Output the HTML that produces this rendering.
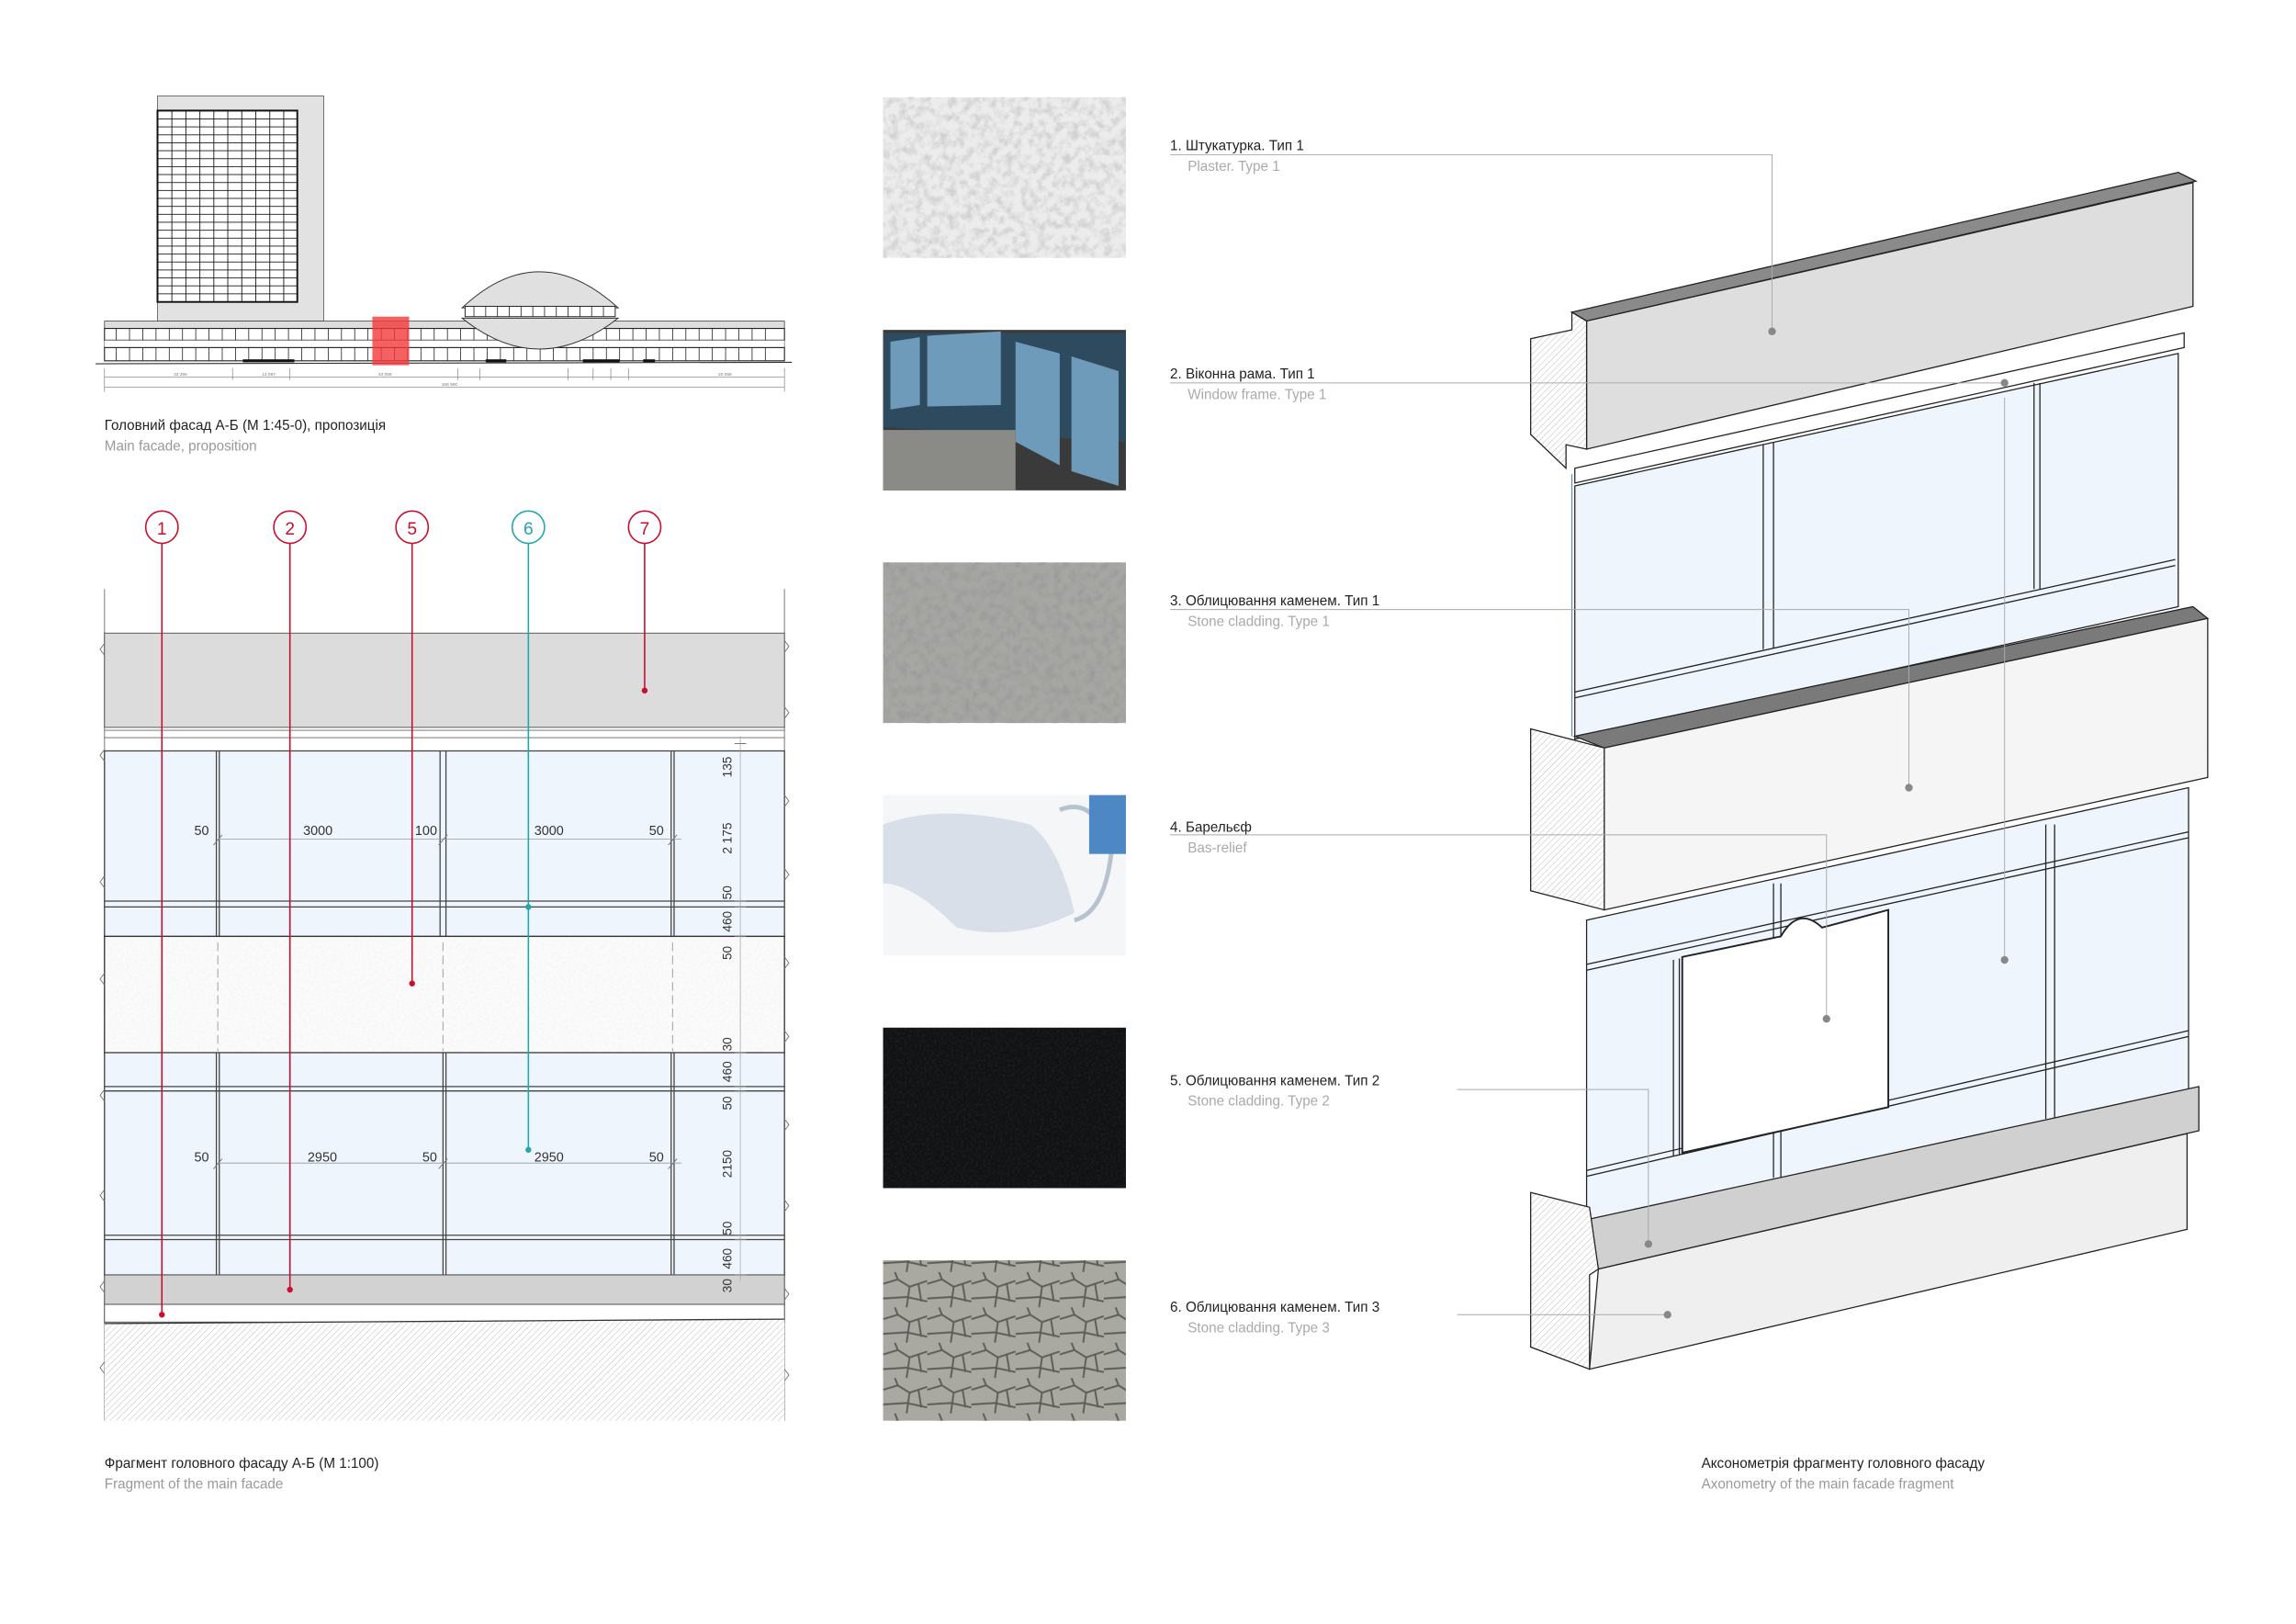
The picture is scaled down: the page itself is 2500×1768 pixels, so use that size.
<!DOCTYPE html>
<html><head><meta charset="utf-8"><style>
html,body{margin:0;padding:0;background:#fff}
svg{display:block}
text{font-family:"Liberation Sans",sans-serif}
</style></head><body>
<svg width="2500" height="1768" viewBox="0 0 1560 1103" xmlns="http://www.w3.org/2000/svg">
<defs>
<pattern id="tw" x="107" y="75" width="9.5" height="5.4" patternUnits="userSpaceOnUse"><rect width="9.5" height="5.4" fill="#fff"/><path d="M0 0H9.5M0 0V5.4" stroke="#111" stroke-width="1.1"/></pattern>
<pattern id="hatch" width="3" height="3" patternUnits="userSpaceOnUse" patternTransform="rotate(45)"><rect width="3" height="3" fill="#fff"/><line x1="0" y1="0" x2="0" y2="3" stroke="#bbb" stroke-width="0.6"/></pattern>
<pattern id="st3" width="30" height="24" patternUnits="userSpaceOnUse"><rect width="30" height="24" fill="#a9a9a2"/><path d="M0 8L10 5L18 10L30 6M10 5L8 0M18 10L16 24M0 18L16 17L30 20M24 8L26 20" stroke="#5c5c58" stroke-width="1.2" fill="none"/></pattern>
<filter id="noise2" x="0" y="0" width="1" height="1"><feTurbulence type="fractalNoise" baseFrequency="0.18" numOctaves="3" seed="5"/><feColorMatrix values="0 0 0 0 0.3  0 0 0 0 0.3  0 0 0 0 0.3  0 0 0 -2.5 1.5"/></filter>
<filter id="noise3" x="0" y="0" width="1" height="1"><feTurbulence type="fractalNoise" baseFrequency="0.6" numOctaves="1" seed="7"/><feColorMatrix values="0 0 0 0 0.25  0 0 0 0 0.25  0 0 0 0 0.25  0 0 0 -1.5 0.9"/></filter>
</defs>

<!-- TOP ELEVATION -->
<rect x="107" y="65" width="113" height="153" fill="#e2e2e2" stroke="#555" stroke-width="0.5"/>
<rect x="107" y="75" width="95" height="130" fill="url(#tw)" stroke="#111" stroke-width="1.2"/>
<rect x="71" y="218" width="462" height="5" fill="#ddd" stroke="#444" stroke-width="0.5"/>
<rect x="71" y="223" width="462" height="8" fill="#fff" stroke="#222" stroke-width="0.7"/>
<rect x="71" y="231" width="462" height="5" fill="#fff" stroke="#555" stroke-width="0.4"/>
<rect x="71" y="236" width="462" height="9" fill="#fff" stroke="#222" stroke-width="0.7"/>
<path d="M79 223v8M88 223v8M97 223v8M106 223v8M115 223v8M124 223v8M133 223v8M142 223v8M151 223v8M160 223v8M169 223v8M178 223v8M187 223v8M196 223v8M205 223v8M214 223v8M223 223v8M232 223v8M241 223v8M250 223v8M259 223v8M268 223v8M277 223v8M286 223v8M295 223v8M304 223v8M313 223v8M322 223v8M331 223v8M340 223v8M349 223v8M358 223v8M367 223v8M376 223v8M385 223v8M394 223v8M403 223v8M412 223v8M421 223v8M430 223v8M439 223v8M448 223v8M457 223v8M466 223v8M475 223v8M484 223v8M493 223v8M502 223v8M511 223v8M520 223v8" stroke="#222" stroke-width="0.5"/>
<path d="M79 236v9M88 236v9M97 236v9M106 236v9M115 236v9M124 236v9M133 236v9M142 236v9M151 236v9M160 236v9M169 236v9M178 236v9M187 236v9M196 236v9M205 236v9M214 236v9M223 236v9M232 236v9M241 236v9M250 236v9M259 236v9M268 236v9M277 236v9M286 236v9M295 236v9M304 236v9M313 236v9M322 236v9M331 236v9M340 236v9M349 236v9M358 236v9M367 236v9M376 236v9M385 236v9M394 236v9M403 236v9M412 236v9M421 236v9M430 236v9M439 236v9M448 236v9M457 236v9M466 236v9M475 236v9M484 236v9M493 236v9M502 236v9M511 236v9M520 236v9" stroke="#222" stroke-width="0.5"/>
<path d="M314 209 Q366 160 420 209 Z" fill="#e0e0e0" stroke="#333" stroke-width="0.6"/>
<path d="M314 216 Q366 258 420 216 Z" fill="#e0e0e0" stroke="#333" stroke-width="0.6"/>
<rect x="316" y="208" width="102" height="7" fill="#fff" stroke="#222" stroke-width="0.6"/>
<path d="M322 208v7M330 208v7M338 208v7M346 208v7M354 208v7M362 208v7M370 208v7M378 208v7M386 208v7M394 208v7M402 208v7M410 208v7" stroke="#222" stroke-width="0.5"/>
<rect x="165" y="244" width="35" height="2" fill="#111"/><rect x="330" y="244" width="14" height="2" fill="#111"/><rect x="396" y="244" width="25" height="2" fill="#111"/><rect x="437" y="244" width="8" height="2" fill="#111"/>
<line x1="65" y1="247" x2="538" y2="246" stroke="#333" stroke-width="0.7"/>
<rect x="253" y="215" width="25" height="33" fill="#f23a3a" opacity="0.8"/>
<path d="M71 256H533M71 263H533M71 250v16M533 250v16M158 250v8M197 250v8M311 250v8M326 250v8M386 250v8M403 250v8M415 250v8M427 250v8" stroke="#777" stroke-width="0.4"/>
<text x="118" y="255" font-size="3" fill="#777">33 296</text><text x="178" y="255" font-size="3" fill="#777">13 097</text><text x="257" y="255" font-size="3" fill="#777">43 058</text><text x="300" y="262" font-size="3" fill="#777">165 900</text><text x="488" y="255" font-size="3" fill="#777">20 058</text>
<text x="71" y="292" font-size="9.5" fill="#222">Головний фасад А-Б (М 1:45-0), пропозиція</text>
<text x="71" y="306" font-size="9.5" fill="#999">Main facade, proposition</text>

<!-- FRAGMENT -->
<path d="M71 400V965M533 400V965" stroke="#888" stroke-width="0.7"/>
<rect x="71" y="430" width="462" height="64" fill="#dcdcdc" stroke="#555" stroke-width="0.6"/>
<path d="M71 496H533M71 501H533" stroke="#666" stroke-width="0.6"/>
<rect x="71" y="510" width="462" height="126" fill="#eef5fc" stroke="#444" stroke-width="0.8"/>
<path d="M71 612H533M71 616H533" stroke="#444" stroke-width="0.8"/>
<path d="M147 510V636M149 510V636M299 510V636M303 510V636M456 510V636M458 510V636" stroke="#444" stroke-width="0.8"/>
<rect x="71" y="636" width="462" height="79" fill="#fbfbfb" stroke="#333" stroke-width="0.8"/>
<rect x="72" y="637" width="460" height="77" fill="#000" filter="url(#noise3)" opacity="0.08"/>
<path d="M148 640V714M301 640V714M457 640V714" stroke="#aaa" stroke-width="0.7" stroke-dasharray="6 3"/>
<rect x="71" y="715" width="462" height="151" fill="#eef5fc" stroke="#444" stroke-width="0.8"/>
<path d="M71 738H533M71 741H533M71 839H533M71 842H533" stroke="#444" stroke-width="0.8"/>
<path d="M147 715V866M149 715V866M301 715V866M303 715V866M456 715V866M458 715V866" stroke="#444" stroke-width="0.8"/>
<rect x="71" y="866" width="462" height="20" fill="#d2d2d2" stroke="#555" stroke-width="0.6"/>
<rect x="71" y="886" width="462" height="12" fill="#fff" stroke="#555" stroke-width="0.6"/>
<path d="M71 899L533 896V965H71Z" fill="url(#hatch)"/>
<path d="M71 899L533 896" stroke="#333" stroke-width="0.8"/>
<path d="M71 437l-3 4l3 4M71 509l-3 4l3 4M71 595l-3 4l3 4M71 661l-3 4l3 4M71 740l-3 4l3 4M71 808l-3 4l3 4M71 870l-3 4l3 4M71 925l-3 4l3 4M533 435l3 4l-3 4M533 480l3 4l-3 4M533 540l3 4l-3 4M533 590l3 4l-3 4M533 650l3 4l-3 4M533 700l3 4l-3 4M533 760l3 4l-3 4M533 815l3 4l-3 4M533 875l3 4l-3 4M533 930l3 4l-3 4" stroke="#777" stroke-width="0.6" fill="none"/>
<path d="M148 570H463M148 790H463" stroke="#999" stroke-width="0.5"/>
<path d="M145 574l6-7M298 574l6-7M454 574l6-7M145 794l6-7M298 794l6-7M454 794l6-7M499 505h8M499 612h8M499 616h8M499 636h8M499 715h8M499 738h8M499 741h8M499 839h8M499 842h8M499 866h8" stroke="#777" stroke-width="0.6"/>
<line x1="503" y1="500" x2="503" y2="870" stroke="#999" stroke-width="0.4"/>
<g font-size="9" fill="#333">
<text x="132" y="567">50</text><text x="206" y="567">3000</text><text x="282" y="567">100</text><text x="363" y="567">3000</text><text x="441" y="567">50</text>
<text x="132" y="789">50</text><text x="209" y="789">2950</text><text x="287" y="789">50</text><text x="363" y="789">2950</text><text x="441" y="789">50</text>
</g>
<g font-size="8.5" fill="#333">
<text transform="translate(497,528) rotate(-90)">135</text>
<text transform="translate(497,580) rotate(-90)">2 175</text>
<text transform="translate(497,611) rotate(-90)">50</text>
<text transform="translate(497,633) rotate(-90)">460</text>
<text transform="translate(497,652) rotate(-90)">50</text>
<text transform="translate(497,714) rotate(-90)">30</text>
<text transform="translate(497,735) rotate(-90)">460</text>
<text transform="translate(497,754) rotate(-90)">50</text>
<text transform="translate(497,800) rotate(-90)">2150</text>
<text transform="translate(497,839) rotate(-90)">50</text>
<text transform="translate(497,862) rotate(-90)">460</text>
<text transform="translate(497,878) rotate(-90)">30</text>
</g>
<g stroke="#c8102e" stroke-width="1" fill="none">
<circle cx="110" cy="358" r="11" fill="#fff"/><circle cx="197" cy="358" r="11" fill="#fff"/><circle cx="280" cy="358" r="11" fill="#fff"/><circle cx="438" cy="358" r="11" fill="#fff"/>
<path d="M110 369V893M197 369V876M280 369V668M438 369V469"/>
</g>
<g fill="#c8102e"><circle cx="110" cy="893" r="2"/><circle cx="197" cy="876" r="2"/><circle cx="280" cy="668" r="2"/><circle cx="438" cy="469" r="2"/></g>
<circle cx="359" cy="358" r="11" fill="#fff" stroke="#22a8a8" stroke-width="1"/>
<path d="M359 369V781" stroke="#22a8a8" stroke-width="1"/>
<circle cx="359" cy="616" r="2" fill="#22a8a8"/><circle cx="359" cy="781" r="2" fill="#22a8a8"/>
<g font-size="12" text-anchor="middle" fill="#c8102e"><text x="110" y="363">1</text><text x="197" y="363">2</text><text x="280" y="363">5</text><text x="438" y="363">7</text></g>
<text x="359" y="363" font-size="12" text-anchor="middle" fill="#22a8a8">6</text>
<text x="71" y="997" font-size="9.5" fill="#222">Фрагмент головного фасаду А-Б (М 1:100)</text>
<text x="71" y="1011" font-size="9.5" fill="#999">Fragment of the main facade</text>

<!-- PHOTOS -->
<rect x="600" y="66" width="165" height="109" fill="#ececec"/>
<rect x="600" y="66" width="165" height="109" fill="#000" filter="url(#noise2)" opacity="0.3"/>
<rect x="600" y="224" width="165" height="109" fill="#3a3a3a"/>
<path d="M600 226L765 226L765 300L600 290Z" fill="#2d4a5e"/>
<path d="M605 232L625 229L625 275L605 278ZM630 228L680 225L680 275L630 276ZM690 232L720 240L720 316L690 300ZM728 242L760 252L760 330L728 320Z" fill="#6f9bbb"/>
<rect x="600" y="292" width="90" height="41" fill="#8a8a86"/>
<rect x="600" y="292" width="90" height="41" fill="#000" filter="url(#noise3)" opacity="0.3"/>
<rect x="600" y="382" width="165" height="109" fill="#a6a6a3"/>
<rect x="600" y="382" width="165" height="109" fill="#000" filter="url(#noise2)" opacity="0.6"/>
<rect x="600" y="540" width="165" height="109" fill="#f4f6f8"/>
<path d="M600 560Q640 545 700 560Q720 575 730 620Q690 640 650 630Q620 600 600 600Z" fill="#d8dfe8"/>
<path d="M720 550Q745 540 755 580Q750 620 730 625" fill="none" stroke="#b7c2cf" stroke-width="3"/>
<rect x="740" y="540" width="25" height="40" fill="#4e88c4"/>
<rect x="600" y="698" width="165" height="109" fill="#111214"/>
<rect x="600" y="698" width="165" height="109" fill="#000" filter="url(#noise3)" opacity="0.15"/>
<rect x="600" y="856" width="165" height="109" fill="url(#st3)"/>

<!-- LABELS -->
<g font-size="9.5" fill="#222">
<text x="795" y="102">1. Штукатурка. Тип 1</text>
<text x="795" y="257">2. Віконна рама. Тип 1</text>
<text x="795" y="411">3. Облицювання каменем. Тип 1</text>
<text x="795" y="565">4. Барельєф</text>
<text x="795" y="737">5. Облицювання каменем. Тип 2</text>
<text x="795" y="891">6. Облицювання каменем. Тип 3</text>
</g>
<g font-size="9.5" fill="#aaa">
<text x="807" y="116">Plaster. Type 1</text>
<text x="807" y="271">Window frame. Type 1</text>
<text x="807" y="425">Stone cladding. Type 1</text>
<text x="807" y="579">Bas-relief</text>
<text x="807" y="751">Stone cladding. Type 2</text>
<text x="807" y="905">Stone cladding. Type 3</text>
</g>

<!-- AXONOMETRY -->
<g stroke="#222" stroke-width="0.8">
<path d="M1070 330L1480 240L1480 412L1070 502Z" fill="#eef5fc"/>
<path d="M1070 470L1478 380M1070 474L1478 384M1205 300V440M1198 302V441M1382 260V400M1386 260V400" fill="none"/>
<path d="M1068 322V500" stroke="#6b8bb0"/>
<path d="M1070 318L1484 226L1484 236L1070 328Z" fill="#fff"/>
<path d="M1068 212L1480 117L1492 123L1078 218Z" fill="#8a8a8a"/>
<path d="M1078 218L1490 124L1490 208L1078 305Z" fill="#dedede"/>
<path d="M1040 230L1068 224L1068 212L1078 218L1078 305L1064 302L1064 318L1040 295Z" fill="url(#hatch)"/>
<path d="M1078 625L1487 535L1487 740L1078 830Z" fill="#eef5fc"/>
<path d="M1078 655L1487 565M1078 659L1487 569M1078 795L1487 700M1078 799L1487 704M1205 600V800M1210 600V800M1390 560V760M1396 560V760" fill="none"/>
<path d="M1143 650L1210 636Q1222 615 1238 630L1283 618L1283 752L1143 783Z" fill="#fff" stroke-width="1.2"/>
<path d="M1137 652V785M1141 651V784" fill="none"/>
<path d="M1070 500L1490 412L1500 420L1090 508Z" fill="#7a7a7a"/>
<path d="M1090 508L1500 420L1500 528L1090 618Z" fill="#f5f5f5"/>
<path d="M1040 495L1090 508L1090 618L1040 605Z" fill="url(#hatch)"/>
<path d="M1080 828L1494 738L1494 768L1086 862Z" fill="#d0d0d0"/>
<path d="M1086 862L1486 770L1486 835L1080 930Z" fill="#efefef"/>
<path d="M1040 810L1080 820L1086 862L1080 866L1080 930L1040 915Z" fill="url(#hatch)"/>
</g>
<g stroke="#aaa" stroke-width="0.6" fill="none">
<path d="M795 105H1204V225"/>
<path d="M795 260H1362"/><path d="M1362 270V652"/>
<path d="M795 414H1297V535"/>
<path d="M795 567H1241V692"/>
<path d="M990 740H1120V845"/>
<path d="M990 893H1133"/>
</g>
<g fill="#888"><circle cx="1204" cy="225" r="2.6"/><circle cx="1362" cy="260" r="2.6"/><circle cx="1362" cy="652" r="2.6"/><circle cx="1297" cy="535" r="2.6"/><circle cx="1241" cy="692" r="2.6"/><circle cx="1120" cy="845" r="2.6"/><circle cx="1133" cy="893" r="2.6"/></g>
<text x="1156" y="997" font-size="9.5" fill="#222">Аксонометрія фрагменту головного фасаду</text>
<text x="1156" y="1011" font-size="9.5" fill="#999">Axonometry of the main facade fragment</text>
</svg>
</body></html>
